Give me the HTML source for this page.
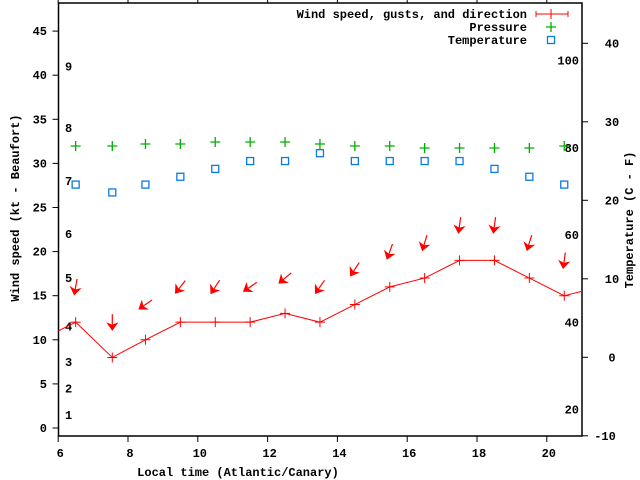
<!DOCTYPE html>
<html><head><meta charset="utf-8">
<style>
html,body{margin:0;padding:0;background:#fff;}
svg{display:block;font-family:"Liberation Mono",monospace;font-size:12px;font-weight:bold;}
</style></head>
<body>
<svg id="chart" width="640" height="480" viewBox="0 0 640 480" xmlns="http://www.w3.org/2000/svg">
<defs><clipPath id="plotclip"><rect x="58.5" y="3" width="523.5" height="433"/></clipPath></defs>
<g id="axes"></g>
<g id="marks" clip-path="url(#plotclip)"></g>
<g id="legend"></g>
</svg>
<script>
// ---- data ----
const windTimes = [5.5, 6.5, 7.55, 8.5, 9.5, 10.5, 11.5, 12.5, 13.5, 14.5, 15.5, 16.5, 17.5, 18.5, 19.5, 20.5, 21.5];
const windSpeeds = [10, 12, 8, 10, 12, 12, 12, 13, 12, 14, 16, 17, 19, 19, 17, 15, 16];
const obsTimes = [6.5, 7.55, 8.5, 9.5, 10.5, 11.5, 12.5, 13.5, 14.5, 15.5, 16.5, 17.5, 18.5, 19.5, 20.5];
const gusts = [16, 12, 14, 16, 16, 16, 17, 16, 18, 20, 21, 23, 23, 21, 19];
const windDirs = [10, 0, 55, 38, 33, 56, 50, 35, 33, 20, 17, 8, 8, 17, 8];
const pressures = [1017, 1017, 1018, 1018, 1019, 1019, 1019, 1018, 1017, 1017, 1016, 1016, 1016, 1016, 1017];
const temps = [22, 21, 22, 23, 24, 25, 25, 26, 25, 25, 25, 25, 24, 23, 22];
const xTicks = [6, 8, 10, 12, 14, 16, 18, 20];
const yTicks = [0, 5, 10, 15, 20, 25, 30, 35, 40, 45];
const tempTicks = [-10, 0, 10, 20, 30, 40];
const fahrTicks = [20, 40, 60, 80, 100];
const beaufortLabels = ["1","2","3","4","5","6","7","8","9"];
const beaufortKt = [1.5, 4.5, 7.5, 11.5, 17, 22, 28, 34, 41];

// ---- scales ----
const X0 = 58.5, X1 = 582, Y0 = 436, Y1 = 3;
function xs(t){ return 58.2 + (t - 6) * 34.9; }
function ys(v){ return 428 - v * 8.82; }
function yt(c){ return 357.3 - c * 7.85; }
function yp(p){ return 146 - (p - 1017) * 2; }

const NS = "http://www.w3.org/2000/svg";
function mk(tag, attrs, parent){
  const e = document.createElementNS(NS, tag);
  for (const k in attrs) e.setAttribute(k, attrs[k]);
  parent.appendChild(e);
  return e;
}
const axes = document.getElementById('axes');
const marks = document.getElementById('marks');
const legend = document.getElementById('legend');

const frame = mk('rect', {x:X0, y:Y1, width:X1-X0, height:Y0-Y1, fill:'none', stroke:'#000', 'stroke-width':1.5}, axes);



xTicks.forEach(t => {
  const x = xs(t);
  const tk = mk('path', {d:`M${x},${Y0}V${Y0+6}M${x},${Y1}V${Y1-6}`, stroke:'#000', 'stroke-width':1}, axes);
  
  
  const lb = mk('text', {x:x+2, y:457, 'text-anchor':'middle'}, axes);
  lb.textContent = t;
  
  
});
yTicks.forEach(v => {
  const y = ys(v);
  const tk = mk('path', {d:`M${X0-6},${y}H${X0}`, stroke:'#000', 'stroke-width':1}, axes);
  
  
  const lb = mk('text', {x:47, y:y+4, 'text-anchor':'end'}, axes);
  lb.textContent = v;
  
  
});
tempTicks.forEach(c => {
  const y = yt(c);
  const tk = mk('path', {d:`M${X1},${y}H${X1+6}`, stroke:'#000', 'stroke-width':1}, axes);
  
  
  const lb = mk('text', {x:c < 0 ? 605 : 612, y:y+4, 'text-anchor':'middle'}, axes);
  lb.textContent = c;
  
  
});
fahrTicks.forEach(f => {
  const y = yt((f - 32) * 5 / 9);
  const lb = mk('text', {x:579, y:y+4, 'text-anchor':'end'}, axes);
  lb.textContent = f;
  
  
});
beaufortLabels.forEach((b, i) => {
  const lb = mk('text', {x:65, y:ys(beaufortKt[i]) + 4}, axes);
  lb.textContent = b;
  
  
});
let t1 = mk('text', {x:238, y:476, 'text-anchor':'middle'}, axes);
t1.textContent = 'Local time (Atlantic/Canary)';


let t2 = mk('text', {x:0, y:0, 'text-anchor':'middle', transform:'translate(19,208) rotate(-90)'}, axes);
t2.textContent = 'Wind speed (kt - Beaufort)';


let t3 = mk('text', {x:0, y:0, 'text-anchor':'middle', transform:'translate(633,220) rotate(-90)'}, axes);
t3.textContent = 'Temperature (C - F)';



const pts = windTimes.map((t, i) => `${xs(t)},${ys(windSpeeds[i])}`).join(' ');
const wl = mk('polyline', {points:pts, fill:'none', stroke:'#f00', 'stroke-width':1}, marks);


windTimes.forEach((t, i) => {
  const x = xs(t), y = ys(windSpeeds[i]);
  const p = mk('path', {d:`M${x-5},${y}H${x+5}M${x},${y-5}V${y+5}`, stroke:'#f00', 'stroke-width':1}, marks);
  
  
});
obsTimes.forEach((t, i) => {
  const cx = xs(t), cy = ys(gusts[i]);
  const a = windDirs[i] * Math.PI / 180;
  const dx = -Math.sin(a), dy = Math.cos(a);
  const L = 8;
  const hx = cx + dx * L, hy = cy + dy * L, tx = cx - dx * L, ty = cy - dy * L;
  const px = -dy, py = dx;
  const g = mk('g', {}, marks);
  
  
  mk('line', {x1:tx, y1:ty, x2:hx, y2:hy, stroke:'#f00', 'stroke-width':1.2}, g);
  const bx = hx - dx * 7, by = hy - dy * 7;
  mk('polygon', {points:`${hx},${hy} ${bx+px*5},${by+py*5} ${bx+dx*2},${by+dy*2} ${bx-px*5},${by-py*5}`, fill:'#f00', stroke:'#f00', 'stroke-width':0.8}, g);
});
obsTimes.forEach((t, i) => {
  const x = xs(t), y = yp(pressures[i]);
  const p = mk('path', {d:`M${x-5},${y}H${x+5}M${x},${y-5}V${y+5}`, stroke:'#00b000', 'stroke-width':1.3}, marks);
  
  
});
obsTimes.forEach((t, i) => {
  const x = xs(t), y = yt(temps[i]);
  const r = mk('rect', {x:x-3.5, y:y-3.5, width:7, height:7, fill:'none', stroke:'#0a7ae8', 'stroke-width':1.3}, marks);
  
  
});

const legItems = ['Wind speed, gusts, and direction', 'Pressure', 'Temperature'];
legItems.forEach((s, i) => {
  const y = 14 + i * 13;
  const lb = mk('text', {x:527, y:y+4, 'text-anchor':'end'}, legend);
  lb.textContent = s;
  
  
});
let s1 = mk('path', {d:'M536,14H568M536,11V17M568,11V17M551,9V19', stroke:'#f00', 'stroke-width':1, fill:'none'}, legend);


let s2 = mk('path', {d:'M546,27H556M551,22V32', stroke:'#00b000', 'stroke-width':1.3}, legend);


let s3 = mk('rect', {x:547.5, y:36.5, width:7, height:7, fill:'none', stroke:'#0a7ae8', 'stroke-width':1.3}, legend);


</script>
</body></html>
